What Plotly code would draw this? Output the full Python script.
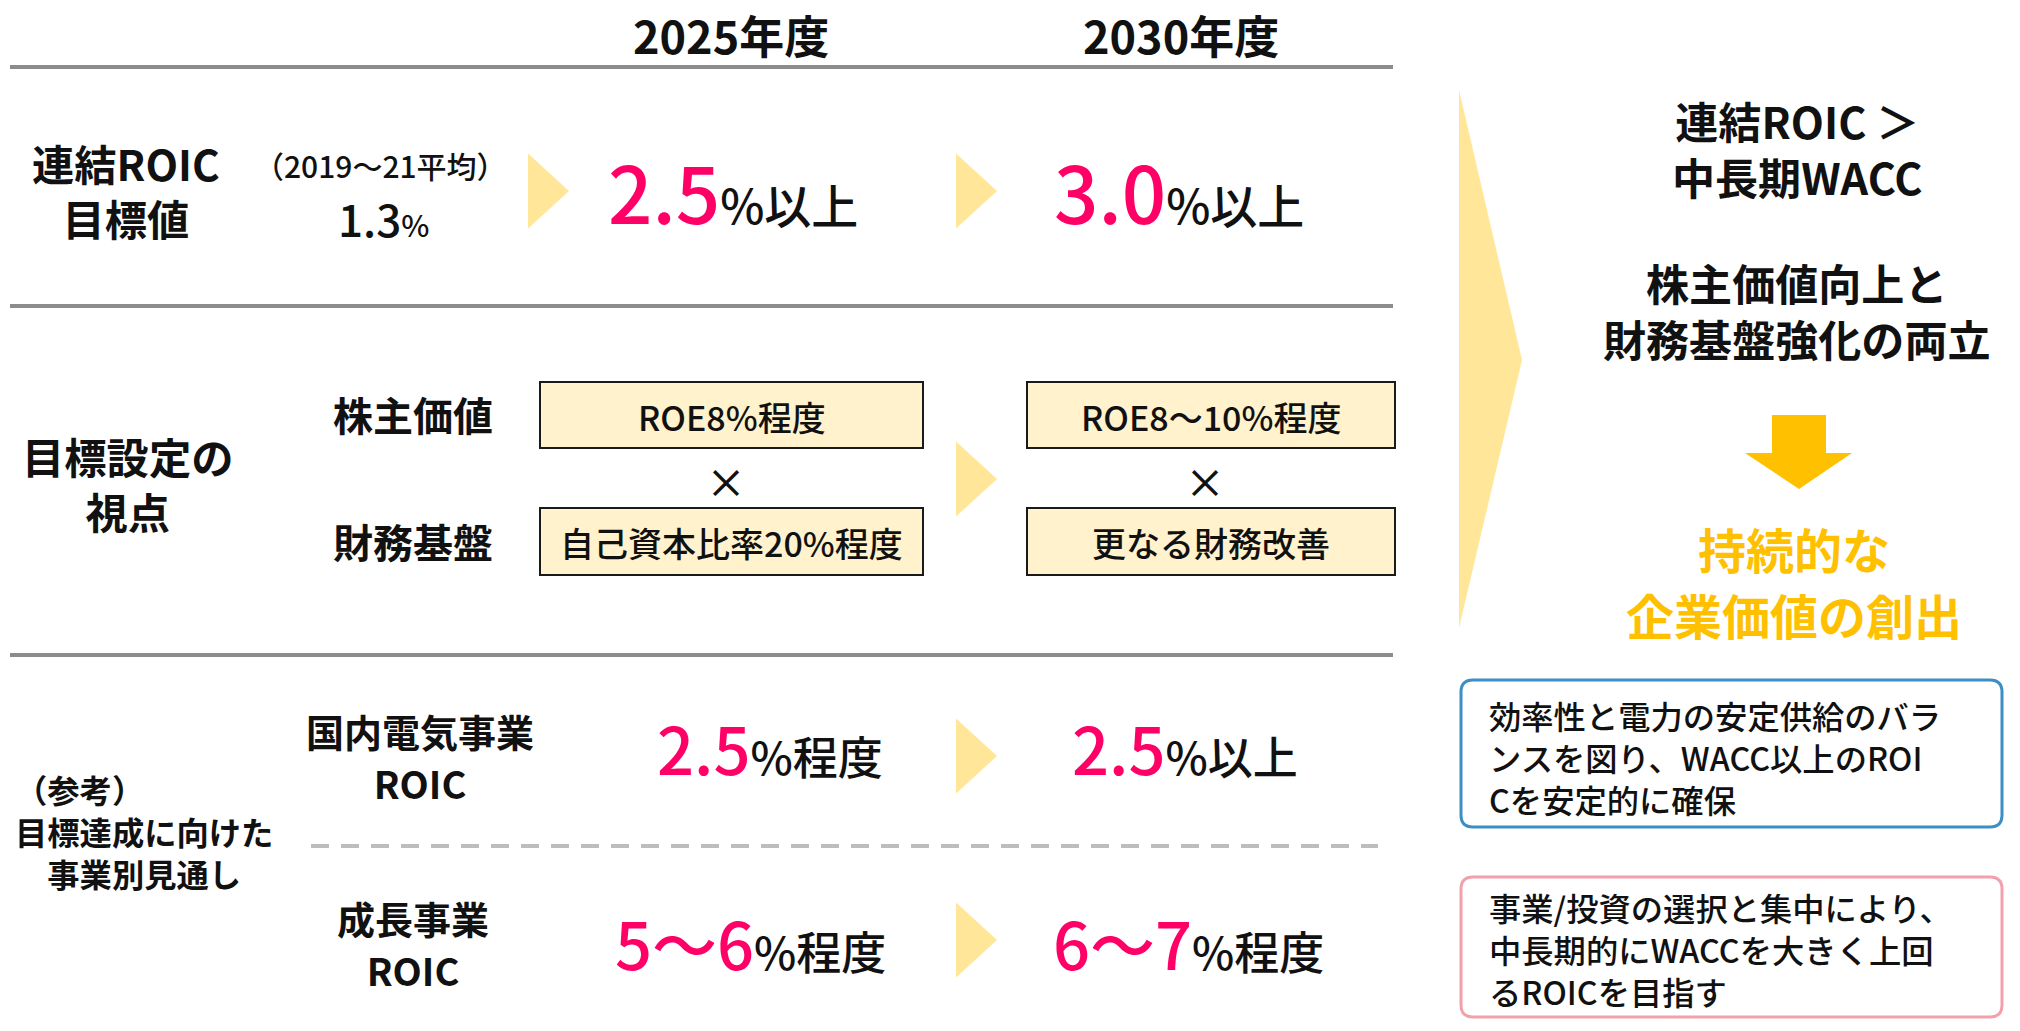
import plotly.graph_objects as go

# ---------------- data ----------------
years = ["2025年度", "2030年度"]
roic_label = ["連結ROIC", "目標値"]
roic_avg_period = "（2019～21平均）"
roic_avg = "1.3"
roic_target = ["2.5", "3.0"]
roic_target_suffix = ["%以上", "%以上"]

view_label = ["目標設定の", "視点"]
view_items = ["株主価値", "財務基盤"]
shareholder_targets = ["ROE8%程度", "ROE8～10%程度"]
financial_targets = ["自己資本比率20%程度", "更なる財務改善"]

ref_label = ["（参考）", "目標達成に向けた", "　事業別見通し"]
segment_labels = [["国内電気事業", "ROIC"], ["成長事業", "ROIC"]]
segment_values = [["2.5", "2.5"], ["5～6", "6～7"]]
segment_suffix = [["%程度", "%以上"], ["%程度", "%程度"]]

goal_lines = [["連結ROIC ＞", "中長期WACC"], ["株主価値向上と", "財務基盤強化の両立"]]
result_lines = ["持続的な", "企業価値の創出"]
note_domestic = ["効率性と電力の安定供給のバラ", "ンスを図り、WACC以上のROI", "Cを安定的に確保"]
note_growth = ["事業/投資の選択と集中により、", "中長期的にWACCを大きく上回", "るROICを目指す"]

# ---------------- style ----------------
FONT = "Noto Sans CJK JP"
BLACK = "#111111"
PINK = "#FF0066"
CHEV = "#FFE699"
CREAM = "#FFF2CC"
ORANGE = "#FFC000"
GRAY = "#8C8C8C"
W, H = 2020, 1031

fig = go.Figure()
shapes = []
ann = []


def text(x, y, s, size, weight=700, color=BLACK, xanchor="center", yanchor="middle", align="center"):
    ann.append(dict(x=x, y=y, text=s, showarrow=False, xanchor=xanchor, yanchor=yanchor, align=align,
                    font=dict(family=FONT, size=size, color=color, weight=weight)))


def mtext(x, y, lines, spacing, size=None, weight=700, color=BLACK, xanchor="center", align="center"):
    # plotly line spacing is 1.3 em of the base font; optional span sets a smaller glyph size
    if size is None:
        s = "<br>".join(lines)
    else:
        s = "<br>".join(f'<span style="font-size:{size}px">{l}</span>' for l in lines)
    text(x, y, s, spacing / 1.3, weight=weight, color=color, xanchor=xanchor, align=align)


def rich(x, y, big, small, bigsize, smallsize):
    s = f'<span style="color:{PINK};font-size:{bigsize}px">{big}</span>{small}'
    text(x, y, s, smallsize, weight=500)


def chevron(x0, yc, w=41, h=75):
    shapes.append(dict(type="path", path=f"M{x0},{yc-h/2} L{x0+w},{yc} L{x0},{yc+h/2} Z",
                       fillcolor=CHEV, line=dict(width=0), layer="below"))


def rrect(x0, y0, x1, y1, color, r=12, width=3):
    p = (f"M{x0+r},{y0} L{x1-r},{y0} Q{x1},{y0} {x1},{y0+r} L{x1},{y1-r} Q{x1},{y1} {x1-r},{y1} "
         f"L{x0+r},{y1} Q{x0},{y1} {x0},{y1-r} L{x0},{y0+r} Q{x0},{y0} {x0+r},{y0} Z")
    shapes.append(dict(type="path", path=p, line=dict(color=color, width=width), fillcolor="white"))


col_x = [731, 1181]          # column centres
chev_x = [528, 956]

# header
for cx, yr in zip(col_x, years):
    text(cx, 0, yr, 45, yanchor="top")

# horizontal rules
for yy in [67, 306, 655]:
    shapes.append(dict(type="line", x0=10, x1=1393, y0=yy, y1=yy, line=dict(color=GRAY, width=4)))
shapes.append(dict(type="line", x0=311, x1=1378, y0=846, y1=846,
                   line=dict(color="#BDBDBD", width=4, dash="18px,12px")))

# ---- row 1 : ROIC target
mtext(126, 190, roic_label, 55)
text(380, 165, roic_avg_period, 30, weight=500)
text(383, 218, f'{roic_avg}<span style="font-size:30px">%</span>', 44, weight=500)
chevron(chev_x[0], 191)
chevron(chev_x[1], 191)
rich(733, 190, roic_target[0], roic_target_suffix[0], 78, 47)
rich(1179, 190, roic_target[1], roic_target_suffix[1], 78, 47)

# ---- row 2 : viewpoints
mtext(128, 483, view_label, 55)
text(413, 414, view_items[0], 40)
text(413, 541, view_items[1], 40)
box_x = [(540, 923), (1027, 1395)]
box_y = [(382, 448), (508, 575)]
for (bx0, bx1), a, b in zip(box_x, shareholder_targets, financial_targets):
    for (by0, by1), s in zip(box_y, [a, b]):
        shapes.append(dict(type="rect", x0=bx0, x1=bx1, y0=by0, y1=by1,
                           fillcolor=CREAM, line=dict(color="#1a1a1a", width=2)))
        text((bx0 + bx1) / 2, (by0 + by1) / 2 + 1, s, 34, weight=500)
    text((bx0 + bx1) / 2 - 6, 481, "×", 40, weight=500)
chevron(chev_x[1], 479)

# ---- row 3 : segment outlook
mtext(13, 831, ref_label, 42, xanchor="left", align="left")
seg_label_pos = [(420, 756), (413, 943)]
seg_val_y = [747, 942]
seg_cx = [[770, 1185], [750, 1188]]
seg_chev_y = [756, 940]
for lab, vals, suf, (lx, ly), yv, cxs, cy in zip(segment_labels, segment_values, segment_suffix,
                                                  seg_label_pos, seg_val_y, seg_cx, seg_chev_y):
    mtext(lx, ly, lab, 52, size=38)
    for cx, v, sfx in zip(cxs, vals, suf):
        rich(cx, yv, v, sfx, 65, 45)
    chevron(chev_x[1], cy)

# ---- right panel
shapes.append(dict(type="path", path="M1459,90 L1522,360 L1459,628 Z",
                   fillcolor=CHEV, line=dict(width=0), layer="below"))
for lines, y in zip(goal_lines, [148, 310]):
    mtext(1797, y, lines, 56)
shapes.append(dict(type="path",
                   path="M1772,415 L1826,415 L1826,453 L1852,453 L1799,489 L1745,453 L1772,453 Z",
                   fillcolor=ORANGE, line=dict(width=0)))
mtext(1794, 581, result_lines, 66, size=48, color=ORANGE)

rrect(1461, 680, 2002, 827, "#3E8EC6")
rrect(1461, 877, 2002, 1017, "#F2A0AA")
mtext(1487, 757, note_domestic, 42, weight=500, xanchor="left", align="left")
mtext(1487, 949, note_growth, 42, weight=500, xanchor="left", align="left")

fig.update_layout(
    width=W, height=H, margin=dict(l=0, r=0, t=0, b=0),
    paper_bgcolor="white", plot_bgcolor="white",
    xaxis=dict(range=[0, W], visible=False, fixedrange=True),
    yaxis=dict(range=[H, 0], visible=False, fixedrange=True),
    shapes=shapes, annotations=ann, showlegend=False,
)

fig.write_html("out.html", config={"displayModeBar": False},
               post_script="document.body.style.margin='0';document.body.style.overflow='hidden';")
